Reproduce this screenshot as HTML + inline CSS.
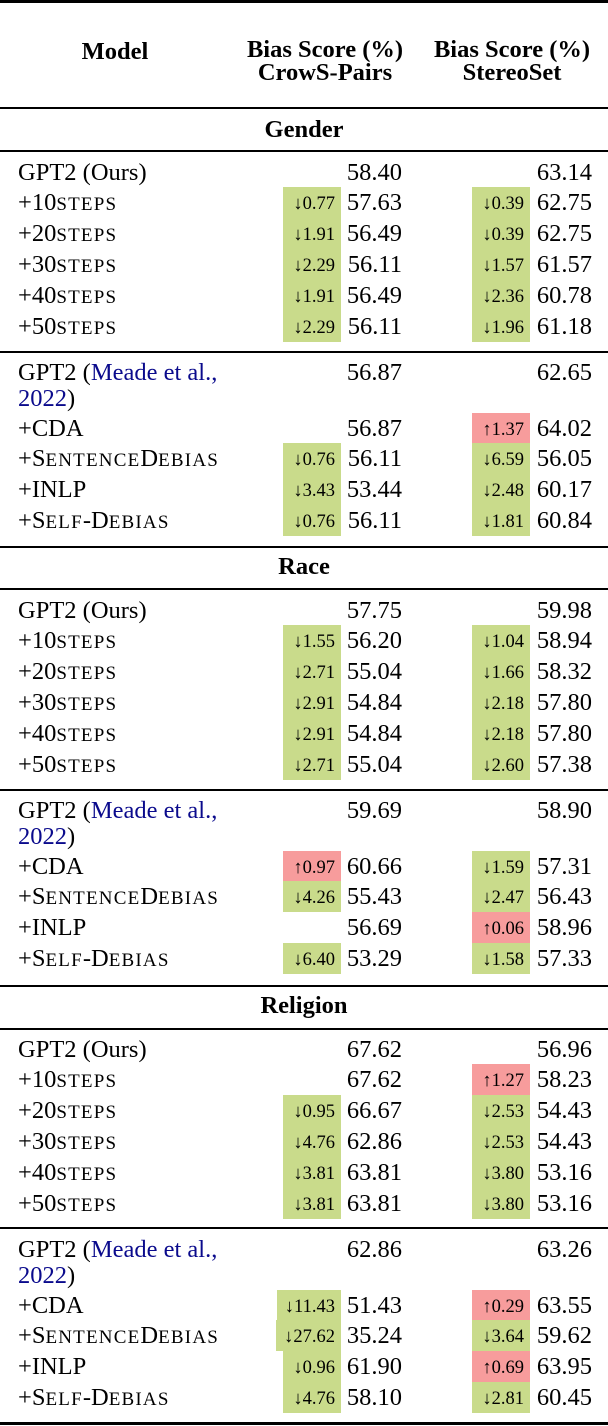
<!DOCTYPE html>
<html><head><meta charset="utf-8">
<style>
body{margin:0;width:608px;height:1426px;background:#fff;position:relative;overflow:hidden;font-family:"Liberation Serif",serif;color:#000}
.a{position:absolute;white-space:nowrap}
.rule{position:absolute;left:0;width:608px;background:#000}
.hd{font-weight:bold;font-size:24.5px;text-align:center;line-height:23px}
.cell{font-size:24.5px;height:31px;line-height:31px}
.sc{font-size:19px;letter-spacing:1.2px}
.box{position:absolute;height:31px;line-height:34px;font-size:18.5px;padding:0 6px 0 8px;box-sizing:border-box;text-align:right}
.g{background:#c9db8b}.r{background:#f79c9c}
.cite{color:#0a0a8c}
</style></head><body>
<div class="rule" style="top:0;height:3px"></div>
<div class="a hd" style="left:40px;width:150px;top:40px">Model</div>
<div class="a hd" style="left:225px;width:200px;top:38px">Bias Score (%)<br>CrowS-Pairs</div>
<div class="a hd" style="left:412px;width:200px;top:38px">Bias Score (%)<br>StereoSet</div>
<div class="rule" style="top:107px;height:2px"></div>
<div id="t"></div>
<script>
const sections=["Gender","Race","Religion"];
const sectionY=[130,567,1006];
const oursY=[172,610,1049];
const meadeY=[372,810,1249];
const ruleY=[150,351,546,588,789,985,1028,1227];
const oursLabels=["GPT2 (Ours)","+10<span class='sc'>STEPS</span>","+20<span class='sc'>STEPS</span>","+30<span class='sc'>STEPS</span>","+40<span class='sc'>STEPS</span>","+50<span class='sc'>STEPS</span>"];
const meadeLabels=["+CDA","+S<span class='sc'>ENTENCE</span>D<span class='sc'>EBIAS</span>","+INLP","+S<span class='sc'>ELF</span>-D<span class='sc'>EBIAS</span>"];
const crowsOurs=[[58.40,57.63,56.49,56.11,56.49,56.11],[57.75,56.20,55.04,54.84,54.84,55.04],[67.62,67.62,66.67,62.86,63.81,63.81]];
const stereoOurs=[[63.14,62.75,62.75,61.57,60.78,61.18],[59.98,58.94,58.32,57.80,57.80,57.38],[56.96,58.23,54.43,54.43,53.16,53.16]];
const crowsOursD=[[null,"↓0.77","↓1.91","↓2.29","↓1.91","↓2.29"],[null,"↓1.55","↓2.71","↓2.91","↓2.91","↓2.71"],[null,null,"↓0.95","↓4.76","↓3.81","↓3.81"]];
const stereoOursD=[[null,"↓0.39","↓0.39","↓1.57","↓2.36","↓1.96"],[null,"↓1.04","↓1.66","↓2.18","↓2.18","↓2.60"],[null,"↑1.27","↓2.53","↓2.53","↓3.80","↓3.80"]];
const crowsBase=[56.87,59.69,62.86];
const stereoBase=[62.65,58.90,63.26];
const crowsMeade=[[56.87,56.11,53.44,56.11],[60.66,55.43,56.69,53.29],[51.43,35.24,61.90,58.10]];
const stereoMeade=[[64.02,56.05,60.17,60.84],[57.31,56.43,58.96,57.33],[63.55,59.62,63.95,60.45]];
const crowsMeadeD=[[null,"↓0.76","↓3.43","↓0.76"],[ "↑0.97","↓4.26",null,"↓6.40"],["↓11.43","↓27.62","↓0.96","↓4.76"]];
const stereoMeadeD=[["↑1.37","↓6.59","↓2.48","↓1.81"],["↓1.59","↓2.47","↑0.06","↓1.58"],["↑0.29","↓3.64","↑0.69","↓2.81"]];
const STEP=30.9;
const T=document.getElementById('t');
function add(html,style,cls){const d=document.createElement('div');d.className='a '+(cls||'');d.innerHTML=html;d.style.cssText=style;T.appendChild(d);return d;}
function row(y,label,c,s,cd,sd,nm){
  const top=(y-15.5)+'px';
  const l=add(label,'left:18px;top:'+top,'cell');
  
  
  const a=add(c.toFixed(2),'right:206px;top:'+top,'cell');
  
  
  const b=add(s.toFixed(2),'right:16px;top:'+top,'cell');
  
  
  if(cd){const x=add(cd,'right:267px;top:'+top+';min-width:58px','box '+(cd[0]=='↑'?'r':'g'));
    
    }
  if(sd){const x=add(sd,'right:78px;top:'+top+';min-width:58px','box '+(sd[0]=='↑'?'r':'g'));
    
    }
}
ruleY.forEach((y)=>{const r=add('','top:'+y+'px;height:1.5px','rule');
  r.className='rule';
  
  });
sections.forEach((s,k)=>{
  const h=add(s,'left:0;width:608px;top:'+(sectionY[k]-12)+'px','hd');
  
  
  for(let i=0;i<6;i++) row(oursY[k]+i*STEP,oursLabels[i],crowsOurs[k][i],stereoOurs[k][i],crowsOursD[k][i],stereoOursD[k][i],s.toLowerCase()+'-ours-'+i);
  row(meadeY[k],"GPT2 (<span class='cite'>Meade et al.,</span>",crowsBase[k],stereoBase[k],null,null,s.toLowerCase()+'-meade-base');
  const c2=add("<span class='cite'>2022</span>)",'left:18px;top:'+(meadeY[k]+26-15.5)+'px','cell');
  
  
  for(let i=0;i<4;i++) row(meadeY[k]+56+i*STEP,meadeLabels[i],crowsMeade[k][i],stereoMeade[k][i],crowsMeadeD[k][i],stereoMeadeD[k][i],s.toLowerCase()+'-meade-'+i);
});
</script>
<div class="rule" style="top:1422px;height:3px"></div>
</body></html>
